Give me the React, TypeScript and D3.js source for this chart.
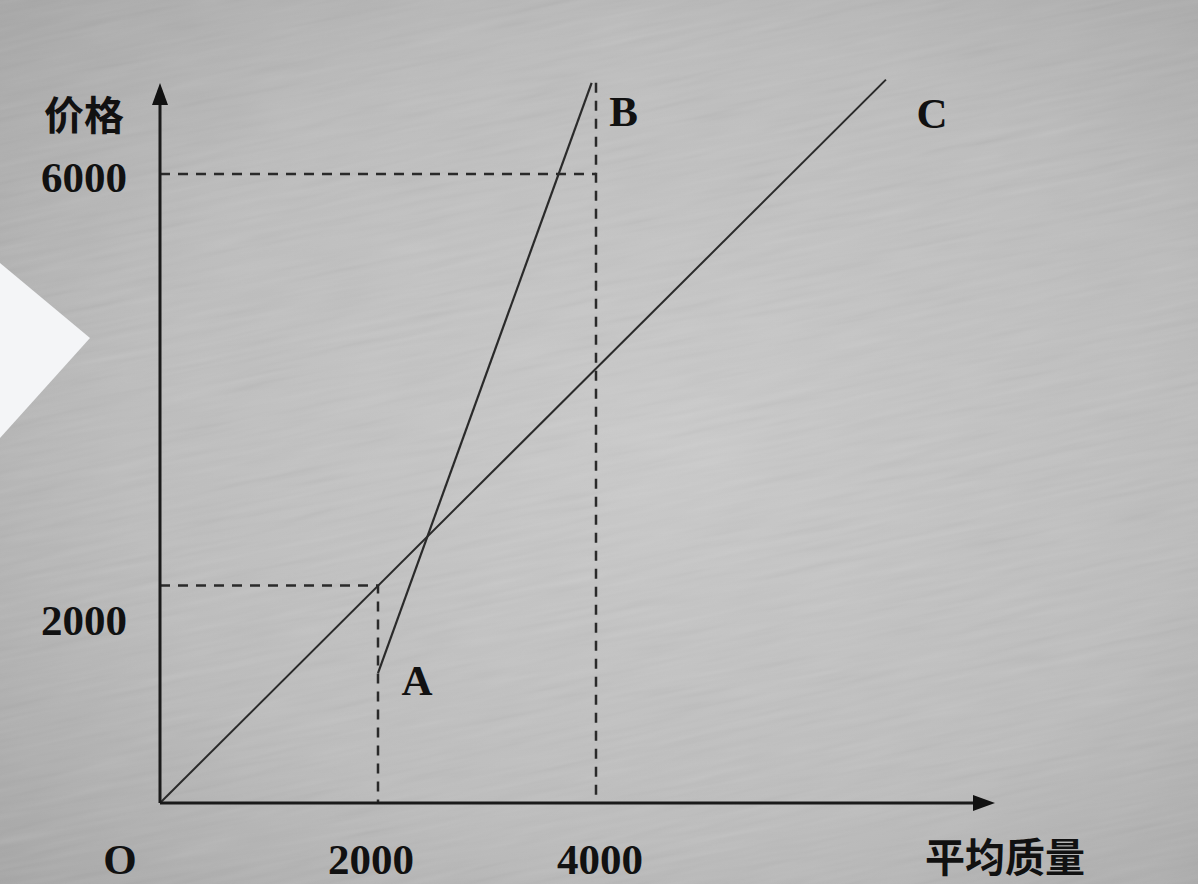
import React, { useEffect } from "react";
import * as d3 from "d3";

// ---- data ----
const xTicks = [2000, 4000];
const yTicks = [2000, 6000];
const lineC: [number, number][] = [[0, 0], [6660, 6900]];
const lineAB: [number, number][] = [[2000, 1240], [3960, 6870]];
const pointA: [number, number] = [2000, 1240];
const pointB: [number, number] = [3960, 6870];
const pointC: [number, number] = [6660, 6900];
const guideLow: [number, number] = [2000, 2075];
const guideHigh: [number, number] = [4000, 6000];
const guideTop = 6870;
const xTitle = "平均质量";
const yTitle = "价格";
const originLabel = "O";

const W = 1198, H = 884;
const x = d3.scaleLinear().domain([0, 4000]).range([160, 596]);
const y = d3.scaleLinear().domain([0, 6000]).range([803, 174]);

const serif = "'Liberation Serif', 'DejaVu Serif', serif";
const cjk = "'Noto Sans CJK SC', sans-serif";
const ink = "#2a2a2a";

export default function App() {
  useEffect(() => {
    document.body.style.margin = "0";
    document.body.style.overflow = "hidden";
  }, []);
  const line = d3.line<[number, number]>().x(d => x(d[0])).y(d => y(d[1]));
  const x0 = x(0), y0 = y(0);
  const xEnd = 995, yEnd = 83;
  const dash = { stroke: ink, strokeWidth: 2.5, strokeDasharray: "10 8", fill: "none" } as const;
  const txt = { fontFamily: serif, fontWeight: 700, fontSize: 43, fill: "#111", dominantBaseline: "central" } as const;
  const yLabelNudge: Record<number, number> = { 2000: 27, 6000: 3 };
  const bottomY = 859;
  return (
    <svg width={W} height={H} style={{ position: "absolute", left: 0, top: 0 }}>
      <defs>
        <radialGradient id="bg" cx="0.55" cy="0.5" r="0.75">
          <stop offset="0" stopColor="#cbcbcb" />
          <stop offset="0.6" stopColor="#bdbdbd" />
          <stop offset="1" stopColor="#a6a6a6" />
        </radialGradient>
        <filter id="tex" x="0" y="0" width="100%" height="100%">
          <feTurbulence type="fractalNoise" baseFrequency="0.012 0.16" numOctaves="2" seed="3" />
          <feColorMatrix type="saturate" values="0" />
        </filter>
      </defs>
      <rect width={W} height={H} fill="url(#bg)" />
      <g transform="rotate(-12 600 442)" opacity={0.14}>
        <rect x={-200} y={-200} width={W + 400} height={H + 400} filter="url(#tex)" />
      </g>
      {/* paper corner */}
      <polygon points="0,263 90,338 0,438" fill="#f4f5f7" />

      {/* guides */}
      <path d={`M${x0},${y(guideLow[1])}H${x(guideLow[0])}V${y0}`} {...dash} />
      <path d={`M${x0},${y(guideHigh[1])}H${x(guideHigh[0])}`} {...dash} />
      <path d={`M${x(guideHigh[0])},${y(guideTop)}V${y0}`} {...dash} />

      {/* lines */}
      <path d={line(lineC)!} stroke={ink} strokeWidth={2} fill="none" />
      <path d={line(lineAB)!} stroke={ink} strokeWidth={2.2} fill="none" />

      {/* axes */}
      <line x1={x0} y1={y0} x2={xEnd - 18} y2={y0} stroke="#1a1a1a" strokeWidth={3} />
      <line x1={x0} y1={y0} x2={x0} y2={yEnd + 18} stroke="#1a1a1a" strokeWidth={3} />
      <polygon points={`${xEnd},${y0} ${xEnd - 22},${y0 - 8} ${xEnd - 22},${y0 + 8}`} fill="#111" />
      <polygon points={`${x0},${yEnd} ${x0 - 8},${yEnd + 22} ${x0 + 8},${yEnd + 22}`} fill="#111" />

      {/* tick labels */}
      {yTicks.map(v => (
        <text key={"y" + v} x={84} y={y(v) + yLabelNudge[v]} textAnchor="middle" {...txt}>{v}</text>
      ))}
      {xTicks.map((v, i) => (
        <text key={"x" + v} x={x(v) + (i === 0 ? -7 : 4)} y={bottomY} textAnchor="middle" {...txt}>{v}</text>
      ))}
      <text x={120} y={bottomY} textAnchor="middle" {...txt}>{originLabel}</text>

      {/* titles */}
      <text x={84} y={113} textAnchor="middle" fontFamily={cjk} fontWeight={700} fontSize={40} fill="#111" dominantBaseline="central">{yTitle}</text>
      <text x={1005} y={855} textAnchor="middle" fontFamily={cjk} fontWeight={700} fontSize={40} fill="#111" dominantBaseline="central">{xTitle}</text>

      {/* point labels */}
      <text x={x(pointA[0]) + 39} y={y(pointA[1]) + 7} textAnchor="middle" {...txt}>A</text>
      <text x={x(pointB[0]) + 32} y={y(pointB[1]) + 29} textAnchor="middle" {...txt}>B</text>
      <text x={x(pointC[0]) + 46} y={y(pointC[1]) + 34} textAnchor="middle" {...txt}>C</text>
    </svg>
  );
}
